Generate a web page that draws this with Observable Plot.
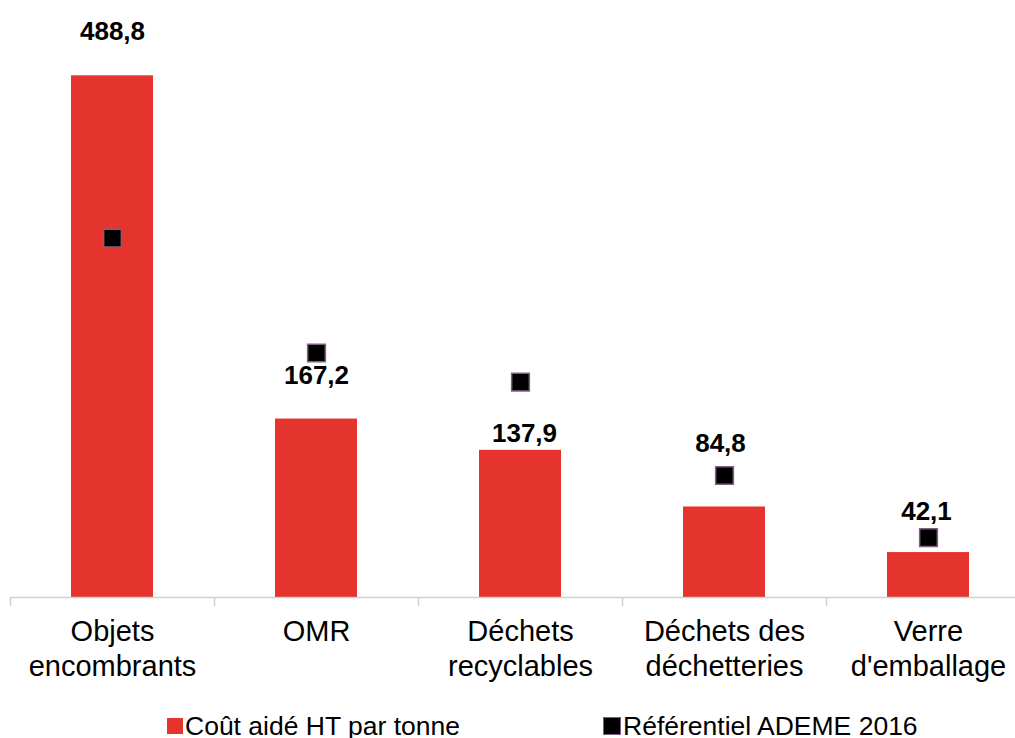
<!DOCTYPE html>
<html>
<head>
<meta charset="utf-8">
<script src="https://cdn.jsdelivr.net/npm/d3@7"></script>
<script src="https://cdn.jsdelivr.net/npm/@observablehq/plot@0.6"></script>
<style>
  html, body { margin: 0; padding: 0; background: #fff; overflow: hidden; }
  #chart { width: 1015px; }
  .legend { position: relative; height: 24px; margin-top: 2px; font-family: "Liberation Sans", Arial, sans-serif; font-size: 26.5px; line-height: 24px; color: #000; }
  .legend .item { position: absolute; top: 0; display: flex; align-items: center; white-space: nowrap; }
  .legend .sw { display: inline-block; margin-right: 2px; }
</style>
</head>
<body>
<div id="chart"></div>
<script>
const categories = ["Objets\nencombrants", "OMR", "Déchets\nrecyclables", "Déchets des\ndéchetteries", "Verre\nd'emballage"];
const coutAide = [488.8, 167.2, 137.9, 84.8, 42.1];
const referentielAdeme = [336.8, 229.1, 201.9, 114.3, 56.2];
const valueLabels = ["488,8", "167,2", "137,9", "84,8", "42,1"];
const seriesNames = ["Coût aidé HT par tonne", "Référentiel ADEME 2016"];

// manual label offsets (pixels above bar top), as placed in the reference
const labelDy = [-44, -43.6, -16.3, -63, -40.6];
const labelDx = [0, 0, 4, -4, -2];

const red = "#e5332d";
const font = "'Liberation Sans', Arial, sans-serif";

const data = categories.map((c, i) => ({cat: c, cout: coutAide[i], ref: referentielAdeme[i], label: valueLabels[i], i}));

const labelMarks = data.map(d => Plot.text([d], {
  x: "cat", y: "cout", text: "label", dy: labelDy[d.i], dx: labelDx[d.i],
  fontSize: 26, fontWeight: "bold", fill: "#000", fontFamily: font
}));

const plot = Plot.plot({
  width: 1015,
  height: 712,
  marginLeft: 10,
  marginRight: 0,
  marginTop: 10,
  marginBottom: 115,
  style: {fontFamily: font, background: "#fff", overflow: "hidden"},
  x: {domain: categories, range: [10, 1030], paddingInner: 0.6, paddingOuter: 0.3, axis: null, label: null},
  y: {domain: [0, 550], axis: null},
  marks: [
    Plot.barY(data, {x: "cat", y: "cout", fill: red}),
    Plot.ruleY([0], {stroke: "#d0d0d0", strokeWidth: 1.5}),
    Plot.axisX({tickSize: 9, tickFormat: () => "", label: null, stroke: "#d0d0d0", strokeWidth: 1.5, dx: -102}),
    Plot.axisX({tickSize: 0, tickPadding: 19, label: null, fontSize: 29, lineHeight: 1.2, fill: "#000", fontFamily: font}),
    Plot.dot(data, {x: "cat", y: "ref", symbol: "square", r: 10, fill: "#000", stroke: "#7f6084", strokeWidth: 1.5}),
    ...labelMarks
  ]
});
document.getElementById("chart").appendChild(plot);

const legend = document.createElement("div");
legend.className = "legend";
legend.innerHTML = `
  <div class="item" style="left:167px"><span class="sw" style="width:16px;height:16px;background:${red}"></span><span>${seriesNames[0]}</span></div>
  <div class="item" style="left:603px"><span class="sw" style="width:16px;height:16px;background:#000;border:1.5px solid #7f6084"></span><span>${seriesNames[1]}</span></div>`;
document.getElementById("chart").appendChild(legend);
</script>
</body>
</html>
